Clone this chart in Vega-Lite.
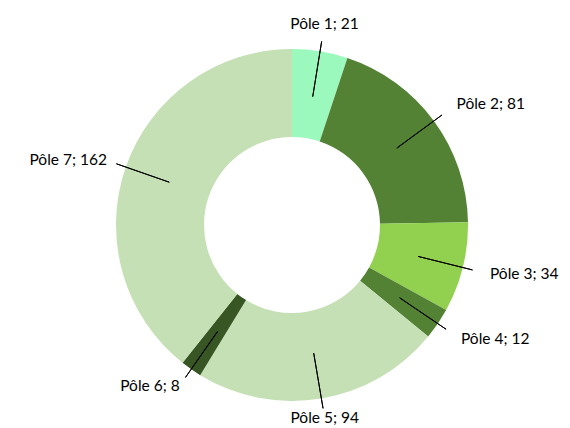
{
  "$schema": "https://vega.github.io/schema/vega-lite/v6.json",
  "width": 556,
  "height": 406,
  "autosize": {"type": "none"},
  "padding": {"left": 14, "top": 22, "right": 0, "bottom": 0},
  "background": "white",
  "config": {"view": {"stroke": null}, "text": {"font": "Lato", "fontSize": 15.5, "color": "#000000"}},
  "data": {
    "values": [
      {"idx": 1, "label": "Pôle 1", "value": 21},
      {"idx": 2, "label": "Pôle 2", "value": 81},
      {"idx": 3, "label": "Pôle 3", "value": 34},
      {"idx": 4, "label": "Pôle 4", "value": 12},
      {"idx": 5, "label": "Pôle 5", "value": 94},
      {"idx": 6, "label": "Pôle 6", "value": 8},
      {"idx": 7, "label": "Pôle 7", "value": 162}
    ]
  },
  "transform": [
    {"stack": "value", "groupby": [], "sort": [{"field": "idx"}], "offset": "normalize", "as": ["v0", "v1"]},
    {"calculate": "datum.label + '; ' + datum.value", "as": "txt"}
  ],
  "layer": [
    {
      "mark": {"type": "arc", "radius": 176, "radius2": 88},
      "encoding": {
        "theta": {"field": "v0", "type": "quantitative", "scale": {"domain": [0, 1]}},
        "theta2": {"field": "v1"},
        "color": {
          "field": "label",
          "type": "nominal",
          "scale": {
            "domain": ["Pôle 1", "Pôle 2", "Pôle 3", "Pôle 4", "Pôle 5", "Pôle 6", "Pôle 7"],
            "range": ["#9CF9BD", "#548235", "#92D050", "#548235", "#C5E0B4", "#375623", "#C5E0B4"]
          },
          "legend": null
        }
      }
    },
    {
      "transform": [
        {"fold": ["v0", "v1"], "as": ["k", "v"]},
        {"aggregate": [{"op": "mean", "field": "v", "as": "mid"}], "groupby": ["label", "txt", "idx"]}
      ],
      "layer": [
        {
          "mark": {"type": "arc", "radius": 186, "radius2": 130, "stroke": "#000000", "strokeWidth": 1, "fill": null},
          "encoding": {
            "theta": {"field": "mid", "type": "quantitative", "scale": {"domain": [0, 1]}},
            "theta2": {"field": "mid"}
          }
        },
        {
          "transform": [{"filter": "datum.mid > 0.08 && datum.mid < 0.42"}],
          "mark": {"type": "text", "radius": 204, "align": "left", "baseline": "middle"},
          "encoding": {
            "theta": {"field": "mid", "type": "quantitative", "scale": {"domain": [0, 1]}},
            "text": {"field": "txt"}
          }
        },
        {
          "transform": [{"filter": "datum.mid > 0.58 && datum.mid < 0.92"}],
          "mark": {"type": "text", "radius": 196, "align": "right", "baseline": "middle"},
          "encoding": {
            "theta": {"field": "mid", "type": "quantitative", "scale": {"domain": [0, 1]}},
            "text": {"field": "txt"}
          }
        },
        {
          "transform": [{"filter": "datum.mid <= 0.08 || datum.mid >= 0.92"}],
          "mark": {"type": "text", "radius": 204, "align": "center", "baseline": "middle"},
          "encoding": {
            "theta": {"field": "mid", "type": "quantitative", "scale": {"domain": [0, 1]}},
            "text": {"field": "txt"}
          }
        },
        {
          "transform": [{"filter": "datum.mid >= 0.42 && datum.mid <= 0.58"}],
          "mark": {"type": "text", "radius": 196, "align": "center", "baseline": "middle"},
          "encoding": {
            "theta": {"field": "mid", "type": "quantitative", "scale": {"domain": [0, 1]}},
            "text": {"field": "txt"}
          }
        }
      ]
    }
  ]
}
